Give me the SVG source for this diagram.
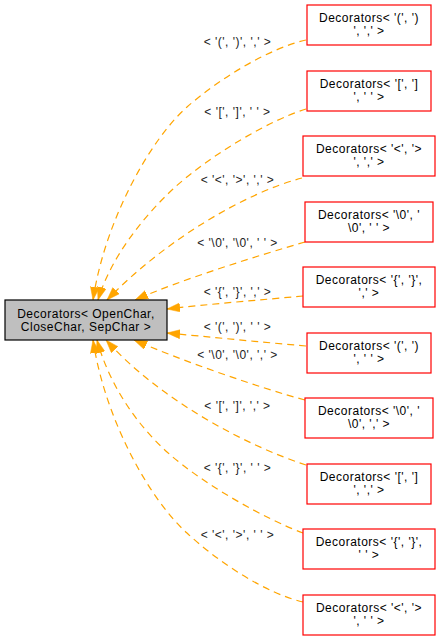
<svg xmlns="http://www.w3.org/2000/svg" width="440" height="640" viewBox="0 0 440 640">
<style>
text{font-family:"Liberation Sans",Arial,sans-serif;font-size:12px;letter-spacing:0.5px;text-anchor:middle;fill:#000}
.lbl{fill:#222}
.base{fill:#bfbfbf;stroke:#000;stroke-width:1.2}
.der{fill:#fff;stroke:#ff0000;stroke-width:1.2}
.edge{fill:none;stroke:#ffa500;stroke-width:1.2;stroke-dasharray:7,5;marker-end:url(#ah)}
</style>
<defs>
<marker id="ah" markerUnits="userSpaceOnUse" markerWidth="14" markerHeight="10" refX="13" refY="4.5" orient="auto">
<path d="M0,0 L13,4.5 L0,9 z" fill="#ffa500" stroke="#ffa500" stroke-width="0.5"/>
</marker>
</defs>
<g id="edges">
<path class="edge" d="M306,40 C270,48 220,78 187,107 C150,140 105,220 93,300"/>
<path class="edge" d="M306,109 C270,120 210,155 173,189 C140,220 110,260 98,300"/>
<path class="edge" d="M302,178 C245,193 165,240 107,300"/>
<path class="edge" d="M305,242 C260,255 180,280 135,300"/>
<path class="edge" d="M303,296 C260,300 210,304 167,309"/>
<path class="edge" d="M306,346 C260,342 210,337 167,333"/>
<path class="edge" d="M305,400 C260,388 180,360 134,340"/>
<path class="edge" d="M306,465 C245,445 160,400 106,340"/>
<path class="edge" d="M303,533 C268,520 205,486 167,452 C132,420 108,380 97,340"/>
<path class="edge" d="M303,602 C268,594 220,564 187,533 C150,500 105,420 93,340"/>
<text class="lbl" x="237.5" y="46">&lt; '(', ')', ',' &gt;</text>
<text class="lbl" x="237.5" y="116">&lt; '[', ']', ' ' &gt;</text>
<text class="lbl" x="237.5" y="184">&lt; '&lt;', '&gt;', ',' &gt;</text>
<text class="lbl" x="237.5" y="247">&lt; '\0', '\0', ' ' &gt;</text>
<text class="lbl" x="237.5" y="296">&lt; '{', '}', ',' &gt;</text>
<text class="lbl" x="237.5" y="331">&lt; '(', ')', ' ' &gt;</text>
<text class="lbl" x="237.5" y="359">&lt; '\0', '\0', ',' &gt;</text>
<text class="lbl" x="237.5" y="410">&lt; '[', ']', ',' &gt;</text>
<text class="lbl" x="237.5" y="472">&lt; '{', '}', ' ' &gt;</text>
<text class="lbl" x="237.5" y="539">&lt; '&lt;', '&gt;', ' ' &gt;</text>
</g>
<g id="base">
<rect class="base" x="5" y="300" width="162" height="40"/>
<text x="86" y="317.5">Decorators&lt; OpenChar,</text>
<text x="86" y="330.5">CloseChar, SepChar &gt;</text>
</g>
<g id="d1">
<rect class="der" x="307" y="5" width="124" height="40"/>
<text x="369" y="22">Decorators&lt; '(', ')</text>
<text x="369" y="35">', ',' &gt;</text>
</g>
<g id="d2">
<rect class="der" x="307" y="71" width="124" height="40"/>
<text x="369" y="88">Decorators&lt; '[', ']</text>
<text x="369" y="101">', ' ' &gt;</text>
</g>
<g id="d3">
<rect class="der" x="303" y="136" width="132" height="40"/>
<text x="369" y="153">Decorators&lt; '&lt;', '&gt;</text>
<text x="369" y="166">', ',' &gt;</text>
</g>
<g id="d4">
<rect class="der" x="305" y="202" width="128" height="40"/>
<text x="369" y="219">Decorators&lt; '\0', '</text>
<text x="369" y="232">\0', ' ' &gt;</text>
</g>
<g id="d5">
<rect class="der" x="303" y="267" width="132" height="40"/>
<text x="369" y="284">Decorators&lt; '{', '}',</text>
<text x="369" y="297">',' &gt;</text>
</g>
<g id="d6">
<rect class="der" x="307" y="333" width="124" height="40"/>
<text x="369" y="350">Decorators&lt; '(', ')</text>
<text x="369" y="363">', ' ' &gt;</text>
</g>
<g id="d7">
<rect class="der" x="305" y="398" width="128" height="40"/>
<text x="369" y="415">Decorators&lt; '\0', '</text>
<text x="369" y="428">\0', ',' &gt;</text>
</g>
<g id="d8">
<rect class="der" x="307" y="464" width="124" height="40"/>
<text x="369" y="481">Decorators&lt; '[', ']</text>
<text x="369" y="494">', ',' &gt;</text>
</g>
<g id="d9">
<rect class="der" x="303" y="529" width="132" height="40"/>
<text x="369" y="546">Decorators&lt; '{', '}',</text>
<text x="369" y="559">' ' &gt;</text>
</g>
<g id="d10">
<rect class="der" x="303" y="595" width="132" height="40"/>
<text x="369" y="612">Decorators&lt; '&lt;', '&gt;</text>
<text x="369" y="625">', ' ' &gt;</text>
</g>
</svg>
